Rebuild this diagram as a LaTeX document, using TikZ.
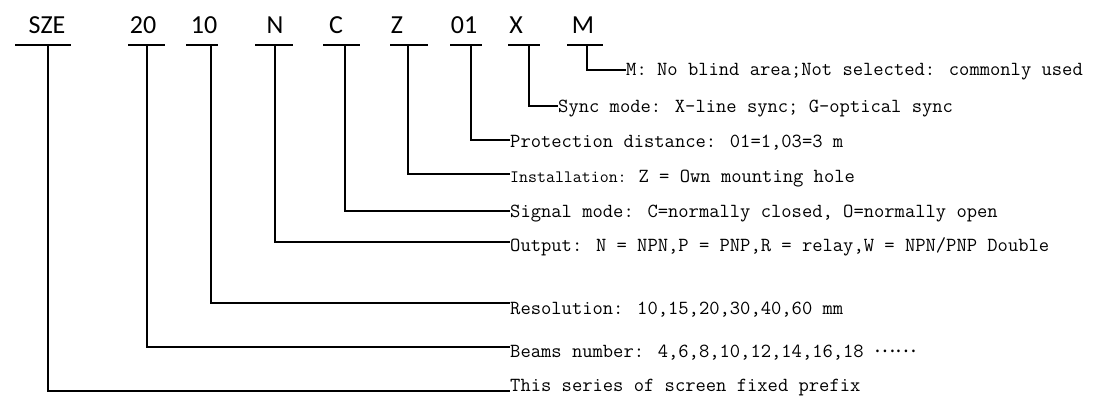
\documentclass[tikz,border=0pt]{standalone}
\usepackage{fontspec}
\newfontfamily\codefont{Carlito}
\newcommand\descfont{\ttfamily}
\newfontfamily\cjk{Noto Sans CJK SC}
\begin{document}
\begin{tikzpicture}[x=1pt,y=-1pt,
  code/.style={font=\codefont\fontsize{26}{28}\selectfont,inner sep=0pt,anchor=base},
  desc/.style={font=\descfont\fontsize{20}{22}\selectfont,inner sep=0pt,anchor=base west},
  wire/.style={line width=2.6pt,line cap=rect,line join=miter},
  bar/.style={line width=2.6pt}]
\useasboundingbox (0,0) rectangle (1096,410);
% code letters
\node[code] (tSZE) at (47,33) {SZE};
\node[code] (t20) at (143,33) {20};
\node[code] (t10) at (204,33) {10};
\node[code] (tN) at (275,33) {N};
\node[code] (tC) at (336,33) {C};
\node[code] (tZ) at (397,33) {Z};
\node[code] (t01) at (464,33) {01};
\node[code] (tX) at (516,33) {X};
\node[code] (tM) at (583,33) {M};
% bars
\draw[bar] (15,45) -- (71,45);
\draw[bar] (128,45) -- (165,45);
\draw[bar] (186,45) -- (218,45);
\draw[bar] (255,45) -- (293,45);
\draw[bar] (323,45) -- (360,45);
\draw[bar] (390,45) -- (428,45);
\draw[bar] (450,45) -- (482,45);
\draw[bar] (508,45) -- (540,45);
\draw[bar] (567,45) -- (603,45);
% junctions
\coordinate (jSZE) at (48,45);
\coordinate (j20) at (147,45);
\coordinate (j10) at (211,45);
\coordinate (jN) at (275,45);
\coordinate (jC) at (345,45);
\coordinate (jZ) at (408,45);
\coordinate (j01) at (471,45);
\coordinate (jX) at (529,45);
\coordinate (jM) at (587,45);
% line ends
\coordinate (eM) at (625,70);
\coordinate (eX) at (557,106);
\coordinate (e01) at (509,140);
\coordinate (eZ) at (509,174);
\coordinate (eC) at (509,211);
\coordinate (eN) at (509,242);
\coordinate (e10) at (509,303);
\coordinate (e20) at (509,347);
\coordinate (eSZE) at (509,391);
% connectors
\draw[wire] (jM) |- (eM);
\draw[wire] (jX) |- (eX);
\draw[wire] (j01) |- (e01);
\draw[wire] (jZ) |- (eZ);
\draw[wire] (jC) |- (eC);
\draw[wire] (jN) |- (eN);
\draw[wire] (j10) |- (e10);
\draw[wire] (j20) |- (e20);
\draw[wire] (jSZE) |- (eSZE);
% descriptions
\node[desc] (dM) at (626,75) {M: No blind area;Not selected: commonly used};
\node[desc] (dX) at (558,112) {Sync mode: X-line sync; G-optical sync};
\node[desc] (d01) at (510,147) {Protection distance: 01=1,03=3 m};
\node[desc] (dZ) at (510,182) {{\fontsize{17.4}{19}\selectfont Installation: }Z = Own mounting hole};
\node[desc] (dC) at (510,217) {Signal mode: C=normally closed, O=normally open};
\node[desc] (dN) at (510,251) {Output: N = NPN,P = PNP,R = relay,W = NPN/PNP Double};
\node[desc] (d10) at (510,314) {Resolution: 10,15,20,30,40,60 mm};
\node[desc] (d20) at (510,357) {Beams number: 4,6,8,10,12,14,16,18 \raisebox{5pt}{\cjk\fontsize{20}{22}\selectfont ……}};
\node[desc] (dSZE) at (510,391) {This series of screen fixed prefix};
\end{tikzpicture}
\end{document}
